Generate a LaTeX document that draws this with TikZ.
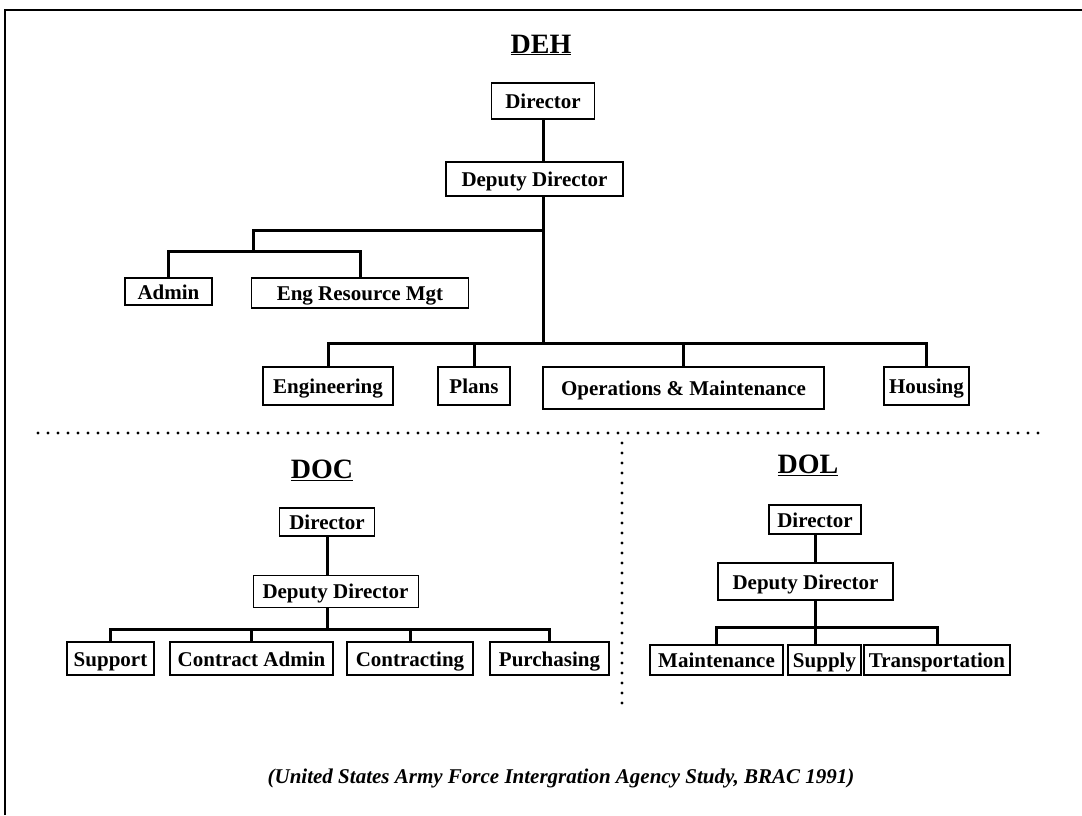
\documentclass[tikz,border=0pt]{standalone}
\usepackage{fontspec}
\setmainfont{Liberation Serif}
\begin{document}
\begin{tikzpicture}[x=1pt,y=-1pt,
  box/.style={draw, line width=1.7pt, inner sep=0pt, text height=16.5pt, text depth=1.5pt, font=\fontsize{21}{24}\selectfont\bfseries},
  conn/.style={line width=3pt},
  ttl/.style={inner sep=0pt, font=\fontsize{28}{30}\selectfont\bfseries},
  dotline/.style={line width=3.4pt, line cap=round, dash pattern=on 0pt off 10pt},
  frame/.style={line width=2.7pt}]
\useasboundingbox (0,0) rectangle (1082,815);
% frame
\draw[frame] (5,815) -- (5,10) -- (1082,10);
% separators
\draw[dotline] (38,433) -- (1045,433);
\draw[dotline] (622,443) -- (622,708);

% ---------- DEH ----------
\node[ttl] (deh) at (541,45) {\underline{DEH}};
\node[box, minimum width=103pt, minimum height=36pt] (dehdir) at (543,101) {Director};
\node[box, minimum width=177pt, minimum height=34pt] (dehdep) at (534.5,179) {Deputy Director};
\node[box, minimum width=87pt, minimum height=27pt] (admin) at (168.5,291.5) {Admin};
\node[box, minimum width=217pt, minimum height=30pt] (erm) at (360,293) {Eng Resource Mgt};
\node[box, minimum width=130pt, minimum height=38pt] (eng) at (328,386) {Engineering};
\node[box, minimum width=72pt, minimum height=38pt] (plans) at (474,386) {Plans};
\node[box, minimum width=281pt, minimum height=42pt] (om) at (683.5,388) {Operations \& Maintenance};
\node[box, minimum width=85pt, minimum height=38pt] (housing) at (926.5,386) {Housing};

\coordinate (jA) at (543,230);
\coordinate (jB) at (543,343);
\coordinate (jC) at (253,230);
\coordinate (jD) at (253,251);
\draw[conn] (dehdir.south) -- (dehdir.south |- dehdep.north);
\draw[conn] (dehdep.south -| jA) -- (jB);
\draw[conn] (jA) -- (jC) -- (jD);
\draw[conn] (admin.north) |- (jD) -| (erm.north);
\draw[conn] (eng.north) |- (jB) -| (housing.north);
\draw[conn] (plans.north) -- (plans.north |- jB);
\draw[conn] (om.north) -- (om.north |- jB);

% ---------- DOC ----------
\node[ttl] (doc) at (322,470) {\underline{DOC}};
\node[box, minimum width=95pt, minimum height=28pt] (docdir) at (327,522) {Director};
\node[box, line width=0.9pt, minimum width=165pt, minimum height=32pt] (docdep) at (335.5,591) {Deputy Director};
\node[box, minimum width=87pt, minimum height=33pt] (support) at (110.5,658.5) {Support};
\node[box, minimum width=163pt, minimum height=33pt] (cadmin) at (251.5,658.5) {Contract Admin};
\node[box, minimum width=126pt, minimum height=33pt] (contr) at (410,658.5) {Contracting};
\node[box, minimum width=119pt, minimum height=33pt] (purch) at (549.5,658.5) {Purchasing};

\coordinate (jE) at (327,629);
\draw[conn] (docdir.south) -- (docdir.south |- docdep.north);
\draw[conn] (docdep.south -| jE) -- (jE);
\draw[conn] (support.north) |- (jE) -| (purch.north);
\draw[conn] (cadmin.north) -- (cadmin.north |- jE);
\draw[conn] (contr.north) -- (contr.north |- jE);

% ---------- DOL ----------
\node[ttl] (dol) at (808,465) {\underline{DOL}};
\node[box, minimum width=92pt, minimum height=29pt] (doldir) at (815,519.5) {Director};
\node[box, minimum width=175pt, minimum height=37pt] (doldep) at (805.5,581.5) {Deputy Director};
\node[box, minimum width=133pt, minimum height=30pt] (maint) at (716.5,660) {Maintenance};
\node[box, minimum width=73pt, minimum height=30pt] (supply) at (824.5,660) {Supply};
\node[box, minimum width=146pt, minimum height=30pt] (transp) at (937,660) {Transportation};

\coordinate (jF) at (815,627);
\draw[conn] (doldir.south) -- (doldir.south |- doldep.north);
\draw[conn] (doldep.south -| jF) -- (jF |- supply.north);
\draw[conn] (maint.north) |- (jF) -| (transp.north);

% ---------- source ----------
\node[inner sep=0pt, font=\fontsize{21}{24}\selectfont\bfseries\itshape] (src) at (561,778)
  {(United States Army Force Intergration Agency Study, BRAC 1991)};
\end{tikzpicture}
\end{document}
